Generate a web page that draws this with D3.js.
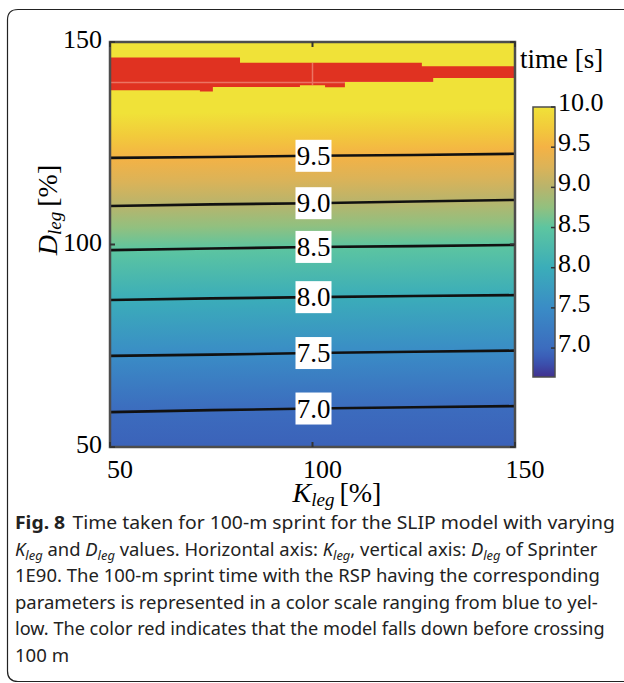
<!DOCTYPE html>
<html>
<head>
<meta charset="utf-8">
<script src="https://cdn.jsdelivr.net/npm/d3@7"></script>
<style>
body { margin: 0; background: #fff; }
svg { display: block; }
</style>
</head>
<body>
<div id="chart"></div>
<script>
// axis ticks
var kTicks = [50, 100, 150];
var dTicks = [50, 100, 150];

// contour lines : D_leg [%] read at these K_leg [%]
var contourK = [50, 75, 100, 125, 150];
var contourLevels = [7.0, 7.5, 8.0, 8.5, 9.0, 9.5];
var contour70 = [58.6, 59.1, 59.5, 59.8, 60.1];
var contour75 = [72.5, 72.8, 73.2, 73.5, 73.8];
var contour80 = [86.3, 86.7, 87.0, 87.3, 87.5];
var contour85 = [98.6, 99.0, 99.4, 99.6, 99.9];
var contour90 = [109.5, 109.9, 110.2, 110.6, 111.0];
var contour95 = [121.4, 121.6, 121.9, 122.1, 122.4];

// time [s] along D_leg at K_leg = 100 (colour field)
var profileTime = [6.92, 7.0, 7.5, 8.0, 8.5, 9.0, 9.5, 10.0, 10.0];
var profileD    = [50, 59.5, 73.2, 87.0, 99.4, 110.2, 121.9, 133, 150];

// red region (model falls down) : K breakpoints, D top / bottom of each step
var fallK      = [50, 72.2, 75.4, 82.1, 96.9, 103.1, 108, 127, 129.8, 150];
var fallTop    = [146.2, 146.2, 146.2, 144.9, 144.9, 144.9, 144.9, 144.0, 144.0, 144.0];
var fallBottom = [138.1, 137.8, 138.9, 138.9, 139.3, 138.8, 140.1, 140.1, 141.1, 141.1];

// colour bar
var cbDomain = [6.64, 10.0];
var cbTicks = [7.0, 7.5, 8.0, 8.5, 9.0, 9.5, 10.0];
var cmapValues = [6.64, 6.8, 6.9, 7.0, 7.5, 8.0, 8.5, 8.75, 9.0, 9.25, 9.5, 9.75, 10.0];
var cmapColors = ['#41308e', '#3b4fac', '#3b5fb8', '#3c6cbe', '#3a8cc6', '#3badb9', '#5dc5a0',
                  '#92c07f', '#b8b46c', '#dbb358', '#f4b245', '#f2cb3b', '#f0e238'];

var caption = [
  [['Fig. 8', 'b'], ['Time taken for 100-m sprint for the SLIP model with varying', 'n', 7]],
  [['K', 'i'], ['leg', 's'], [' and ', 'n'], ['D', 'i'], ['leg', 's'], [' values. Horizontal axis: ', 'n'],
   ['K', 'i'], ['leg', 's'], [', vertical axis: ', 'n'], ['D', 'i'], ['leg', 's'], [' of Sprinter', 'n']],
  [['1E90. The 100-m sprint time with the RSP having the corresponding', 'n']],
  [['parameters is represented in a color scale ranging from blue to yel-', 'n']],
  [['low. The color red indicates that the model falls down before crossing', 'n']],
  [['100 m', 'n']]
];
var captionEnds = [608, 598, 600, 598, 605, null];

var W = 624, H = 683;
var serif = '"Liberation Serif", "Times New Roman", serif';

var svg = d3.select('#chart').append('svg').attr('width', W).attr('height', H);

// outer frame
svg.append('path')
  .attr('d', 'M 640 9.5 H 18 Q 7.5 9.5 7.5 20 V 671 Q 7.5 681.5 18 681.5 H 640')
  .attr('fill', 'none').attr('stroke', '#222').attr('stroke-width', 1.2);

var x = d3.scaleLinear().domain([50, 150]).range([110, 515]);
var y = d3.scaleLinear().domain([50, 150]).range([447, 42]);
var color = d3.scaleLinear().domain(cmapValues).range(cmapColors);
var dOfTime = d3.scaleLinear().domain(profileTime.slice(0, 8)).range(profileD.slice(0, 8));

var contours = [contour70, contour75, contour80, contour85, contour90, contour95];
var defs = svg.append('defs');

// slope of the iso-lines, from the contour data
var slope = d3.mean(contours, function(c) {
  return (y(c[0]) - y(c[c.length - 1])) / (x(150) - x(50));
});
var yA = y(150), yB = y(50);
var field = defs.append('linearGradient').attr('id', 'field')
  .attr('gradientUnits', 'userSpaceOnUse')
  .attr('x1', x(100)).attr('y1', yA)
  .attr('x2', x(100) + slope * (yB - yA)).attr('y2', yB);
var fieldValues = [10.0, 9.75, 9.5, 9.25, 9.0, 8.75, 8.5, 8.0, 7.5, 7.0, profileTime[0]];
fieldValues.forEach(function(t) {
  field.append('stop')
    .attr('offset', (y(dOfTime(t)) - yA) / (yB - yA))
    .attr('stop-color', color(t));
});

defs.append('clipPath').attr('id', 'plotclip').append('rect')
  .attr('x', x(50)).attr('y', y(150)).attr('width', x(150) - x(50)).attr('height', y(50) - y(150));

var plot = svg.append('g').attr('clip-path', 'url(#plotclip)');
plot.append('rect')
  .attr('x', x(50)).attr('y', y(150)).attr('width', x(150) - x(50)).attr('height', y(50) - y(150))
  .attr('fill', 'url(#field)');

// red region
var fallArea = d3.area()
  .x(function(d, i) { return x(fallK[i]); })
  .y0(function(d, i) { return y(fallBottom[i]); })
  .y1(function(d, i) { return y(fallTop[i]); })
  .curve(d3.curveStepAfter);
var fallPath = fallArea(fallK);
plot.append('path').attr('d', fallPath).attr('fill', '#e03322');
defs.append('clipPath').attr('id', 'fallclip').append('path').attr('d', fallPath);
var faint = plot.append('g').attr('clip-path', 'url(#fallclip)')
  .attr('stroke', '#f2a090').attr('stroke-width', 1.5).attr('opacity', 0.6);
faint.append('line').attr('x1', x(50)).attr('x2', x(150)).attr('y1', y(140)).attr('y2', y(140));
faint.append('line').attr('x1', x(100)).attr('x2', x(100)).attr('y1', y(150)).attr('y2', y(130));

// contour lines
var line = d3.line()
  .x(function(d, i) { return x(contourK[i]); })
  .y(function(d) { return y(d); });
plot.selectAll('path.contour')
  .data(contours)
  .enter()
  .append('path')
  .attr('class', 'contour')
  .attr('d', line)
  .attr('fill', 'none')
  .attr('stroke', '#111')
  .attr('stroke-width', 2.6);

// contour labels
var lab = plot.selectAll('g.clabel')
  .data(contourLevels)
  .enter()
  .append('g')
  .attr('class', 'clabel')
  .attr('transform', function(d, i) { return 'translate(' + (x(100) + 1) + ',' + y(contours[i][2]) + ')'; });
lab.append('rect').attr('x', -18).attr('y', -16).attr('width', 36).attr('height', 32).attr('fill', '#fff');
lab.append('text')
  .attr('text-anchor', 'middle').attr('y', 9)
  .attr('font-family', serif).attr('font-size', '27px')
  .text(function(d) { return d3.format('.1f')(d); });

// plot box and ticks
svg.append('rect')
  .attr('x', x(50)).attr('y', y(150)).attr('width', x(150) - x(50)).attr('height', y(50) - y(150))
  .attr('fill', 'none').attr('stroke', '#4d4d4d').attr('stroke-width', 2.5);
var tk = svg.append('g').attr('stroke', '#333').attr('stroke-width', 2);
kTicks.forEach(function(k) {
  tk.append('line').attr('x1', x(k)).attr('x2', x(k)).attr('y1', y(150)).attr('y2', y(150) + 5);
  tk.append('line').attr('x1', x(k)).attr('x2', x(k)).attr('y1', y(50)).attr('y2', y(50) - 5);
});
dTicks.forEach(function(d) {
  tk.append('line').attr('x1', x(50)).attr('x2', x(50) + 5).attr('y1', y(d)).attr('y2', y(d));
  tk.append('line').attr('x1', x(150)).attr('x2', x(150) - 5).attr('y1', y(d)).attr('y2', y(d));
});

// tick labels
svg.selectAll('text.kt')
  .data(kTicks)
  .enter()
  .append('text')
  .attr('class', 'kt')
  .attr('x', function(d) { return x(d) + 10; })
  .attr('y', 478)
  .attr('text-anchor', 'middle')
  .attr('font-family', serif).attr('font-size', '26px')
  .text(function(d) { return d; });
svg.selectAll('text.dt')
  .data(dTicks)
  .enter()
  .append('text')
  .attr('class', 'dt')
  .attr('x', 102)
  .attr('y', function(d) { return y(d) + 6; })
  .attr('text-anchor', 'end')
  .attr('font-family', serif).attr('font-size', '26px')
  .text(function(d) { return d; });

// axis titles
var xt = svg.append('text')
  .attr('x', 337).attr('y', 502)
  .attr('text-anchor', 'middle')
  .attr('font-family', serif).attr('font-size', '28px');
xt.append('tspan').attr('font-style', 'italic').text('K');
xt.append('tspan').attr('font-style', 'italic').attr('font-size', '19px').attr('dy', 4).text('leg');
xt.append('tspan').attr('dy', -4).attr('dx', 5).text('[%]');

var yt = svg.append('text')
  .attr('transform', 'translate(57,210) rotate(-90)')
  .attr('text-anchor', 'middle')
  .attr('font-family', serif).attr('font-size', '28px');
yt.append('tspan').attr('font-style', 'italic').text('D');
yt.append('tspan').attr('font-style', 'italic').attr('font-size', '19px').attr('dy', 4).text('leg');
yt.append('tspan').attr('dy', -4).attr('dx', 5).text('[%]');

// colour bar
var cb = d3.scaleLinear().domain(cbDomain).range([377, 107]);
var cbGrad = defs.append('linearGradient').attr('id', 'cbgrad')
  .attr('x1', 0).attr('y1', 1).attr('x2', 0).attr('y2', 0);
cmapValues.forEach(function(v) {
  cbGrad.append('stop')
    .attr('offset', (v - cbDomain[0]) / (cbDomain[1] - cbDomain[0]))
    .attr('stop-color', color(v));
});
svg.append('rect')
  .attr('x', 533).attr('y', cb(cbDomain[1])).attr('width', 22).attr('height', cb(cbDomain[0]) - cb(cbDomain[1]))
  .attr('fill', 'url(#cbgrad)').attr('stroke', '#4d4d4d').attr('stroke-width', 1.5);
svg.selectAll('line.cbt')
  .data(cbTicks)
  .enter()
  .append('line')
  .attr('class', 'cbt')
  .attr('x1', 551).attr('x2', 555)
  .attr('y1', function(d) { return cb(d); }).attr('y2', function(d) { return cb(d); })
  .attr('stroke', '#333').attr('stroke-width', 1.5);
svg.selectAll('text.cbl')
  .data(cbTicks)
  .enter()
  .append('text')
  .attr('class', 'cbl')
  .attr('x', 558)
  .attr('y', function(d) { return cb(d) + 4; })
  .attr('font-family', serif).attr('font-size', '26px')
  .text(function(d) { return d3.format('.1f')(d); });
svg.append('text')
  .attr('x', 520).attr('y', 68)
  .attr('font-family', serif).attr('font-size', '27px')
  .text('time [s]');

// caption
var capScales = [];
var capNodes = [];
caption.forEach(function(segs, li) {
  var t = svg.append('text')
    .attr('font-family', '"Noto Sans", "Open Sans", sans-serif')
    .attr('font-size', '18.5px')
    .attr('fill', '#222');
  var shifted = false;
  segs.forEach(function(s) {
    var sp = t.append('tspan').text(s[0]);
    if (s[2]) sp.attr('dx', s[2]);
    if (s[1] === 'b') sp.attr('font-weight', 'bold');
    if (s[1] === 'i') sp.attr('font-style', 'italic');
    if (s[1] === 's') {
      sp.attr('font-style', 'italic').attr('font-size', '13px');
      if (!shifted) { sp.attr('dy', 4); shifted = true; }
    } else if (shifted) {
      sp.attr('dy', -4); shifted = false;
    }
  });
  var w = t.node().getComputedTextLength();
  var k = captionEnds[li] ? (captionEnds[li] - 15) / w : null;
  if (k) capScales.push(k);
  capNodes.push([t, k]);
});
var meanK = d3.mean(capScales);
capNodes.forEach(function(p, li) {
  p[0].attr('transform', 'translate(15,' + (529 + li * 26.6) + ') scale(' + (p[1] || meanK) + ',1)');
});
</script>
</body>
</html>
